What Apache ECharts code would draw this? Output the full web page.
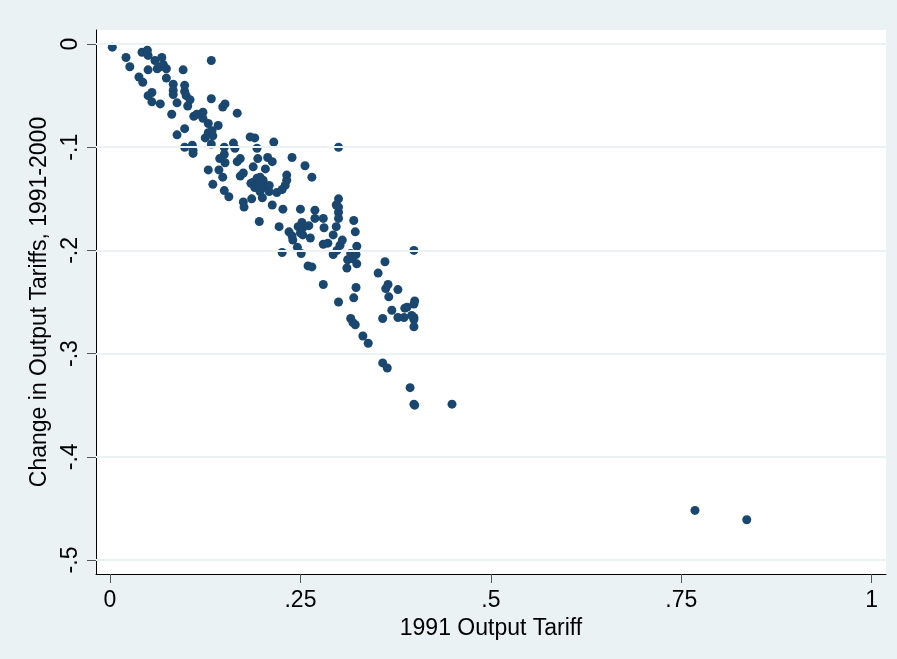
<!DOCTYPE html>
<html>
<head>
<meta charset="utf-8">
<script src="https://cdn.jsdelivr.net/npm/echarts@6/dist/echarts.min.js"></script>
<style>
html,body{margin:0;padding:0;background:#eaf2f3;}
#chart{width:897px;height:659px;}
</style>
</head>
<body>
<div id="chart"></div>
<script>
// 1991 output tariff (x) and change 1991-2000 (y)
const tariff1991 = [
0.003,0.021,0.042,0.049,0.050,0.026,0.059,0.068,0.062,0.066,0.070,0.074,0.050,0.096,0.133,
0.038,0.043,0.074,0.083,0.083,0.083,0.098,0.098,0.100,0.105,0.050,0.055,0.055,0.066,0.088,
0.102,0.133,0.081,0.110,0.114,0.122,0.122,0.129,0.142,0.148,0.151,0.167,0.098,0.088,0.125,
0.129,0.135,0.134,0.098,0.108,0.109,0.109,0.133,0.150,0.162,0.164,0.184,0.190,0.215,0.193,
0.150,0.144,0.151,0.167,0.171,0.194,0.207,0.213,0.239,0.256,0.129,0.143,0.148,0.188,0.204,
0.171,0.175,0.188,0.185,0.193,0.197,0.201,0.190,0.197,0.201,0.209,0.209,0.219,0.226,0.230,
0.232,0.232,0.265,0.135,0.150,0.156,0.175,0.176,0.186,0.197,0.200,0.213,0.227,0.250,0.196,
0.222,0.252,0.253,0.269,0.269,0.280,0.281,0.235,0.240,0.239,0.247,0.250,0.261,0.253,0.263,
0.246,0.251,0.226,0.297,0.293,0.280,0.286,0.305,0.302,0.298,0.293,0.300,0.300,0.297,0.300,
0.300,0.300,0.320,0.322,0.324,0.316,0.323,0.324,0.318,0.312,0.311,0.260,0.265,0.361,0.399,
0.352,0.280,0.323,0.365,0.362,0.366,0.378,0.320,0.300,0.370,0.358,0.378,0.387,0.390,0.386,
0.396,0.400,0.399,0.399,0.399,0.399,0.316,0.319,0.322,0.332,0.339,0.358,0.364,0.394,0.399,
0.400,0.449,0.768,0.836
];
const change9100 = [
-0.003,-0.013,-0.008,-0.006,-0.011,-0.022,-0.016,-0.013,-0.024,-0.022,-0.020,-0.024,-0.025,-0.025,-0.016,
-0.032,-0.037,-0.033,-0.039,-0.045,-0.049,-0.040,-0.046,-0.050,-0.054,-0.050,-0.047,-0.056,-0.058,-0.057,
-0.060,-0.053,-0.068,-0.070,-0.068,-0.066,-0.072,-0.077,-0.079,-0.061,-0.058,-0.067,-0.082,-0.088,-0.091,
-0.086,-0.089,-0.084,-0.100,-0.098,-0.103,-0.106,-0.097,-0.100,-0.096,-0.101,-0.090,-0.091,-0.095,-0.101,
-0.107,-0.111,-0.115,-0.114,-0.111,-0.111,-0.110,-0.114,-0.110,-0.118,-0.122,-0.122,-0.129,-0.119,-0.121,
-0.128,-0.125,-0.134,-0.135,-0.130,-0.129,-0.132,-0.139,-0.135,-0.139,-0.137,-0.143,-0.144,-0.141,-0.137,
-0.127,-0.132,-0.129,-0.136,-0.142,-0.148,-0.153,-0.158,-0.150,-0.143,-0.149,-0.156,-0.160,-0.160,-0.172,
-0.177,-0.173,-0.178,-0.161,-0.169,-0.169,-0.178,-0.182,-0.190,-0.186,-0.177,-0.183,-0.176,-0.185,-0.188,
-0.197,-0.203,-0.202,-0.177,-0.185,-0.194,-0.193,-0.190,-0.195,-0.200,-0.204,-0.100,-0.150,-0.156,-0.158,
-0.163,-0.169,-0.171,-0.182,-0.196,-0.203,-0.204,-0.213,-0.208,-0.209,-0.217,-0.215,-0.216,-0.211,-0.200,
-0.222,-0.233,-0.236,-0.233,-0.237,-0.245,-0.238,-0.246,-0.250,-0.258,-0.266,-0.265,-0.256,-0.255,-0.265,
-0.263,-0.249,-0.252,-0.265,-0.267,-0.274,-0.266,-0.270,-0.272,-0.283,-0.290,-0.309,-0.314,-0.333,-0.349,
-0.350,-0.349,-0.452,-0.461
];
const xTicks = [0, 0.25, 0.5, 0.75, 1];
const xTickLabels = ['0', '.25', '.5', '.75', '1'];
const yTicks = [0, -0.1, -0.2, -0.3, -0.4, -0.5];
const yTickLabels = ['0', '-.1', '-.2', '-.3', '-.4', '-.5'];
const xTitle = '1991 Output Tariff';
const yTitle = 'Change in Output Tariffs, 1991-2000';

const points = tariff1991.map((x, i) => [x, change9100[i]]);
const FONT = "'Liberation Sans', Arial, sans-serif";

const chart = echarts.init(document.getElementById('chart'), null, {renderer: 'canvas'});
chart.setOption({
  animation: false,
  backgroundColor: '#eaf2f3',
  grid: {left: 96, right: 11, top: 30, bottom: 85, show: true, backgroundColor: '#ffffff', borderWidth: 0},
  xAxis: {
    type: 'value', min: -0.0184, max: 1.0188,
    name: xTitle, nameLocation: 'middle', nameGap: 34,
    nameTextStyle: {fontFamily: FONT, fontSize: 23, color: '#000'},
    axisLine: {show: true, onZero: false, lineStyle: {color: '#000', width: 1}},
    axisTick: {show: true, length: 9, customValues: xTicks, lineStyle: {color: '#555'}},
    axisLabel: {show: true, customValues: xTicks, margin: 15, fontFamily: FONT, fontSize: 23, color: '#000',
      formatter: v => { const i = xTicks.findIndex(t => Math.abs(t - v) < 1e-9); return i >= 0 ? xTickLabels[i] : ''; }},
    splitLine: {show: false}
  },
  yAxis: {
    type: 'value', min: -0.5136, max: 0.0136,
    name: yTitle, nameLocation: 'middle', nameGap: 34, nameRotate: 90,
    nameTextStyle: {fontFamily: FONT, fontSize: 23, color: '#000'},
    axisLine: {show: true, onZero: false, lineStyle: {color: '#000', width: 1}},
    axisTick: {show: true, length: 9, customValues: yTicks, lineStyle: {color: '#555'}},
    axisLabel: {show: true, customValues: yTicks, rotate: 90, margin: 14, fontFamily: FONT, fontSize: 23, color: '#000',
      formatter: v => { const i = yTicks.findIndex(t => Math.abs(t - v) < 1e-9); return i >= 0 ? yTickLabels[i] : ''; }},
    splitLine: {show: false}
  },
  series: [
    {
      type: 'line', data: [], z: 1, silent: true,
      markLine: {
        silent: true, symbol: 'none', animation: false,
        label: {show: false},
        lineStyle: {color: '#eaf2f3', width: 2, type: 'solid'},
        data: yTicks.map(v => ({yAxis: v}))
      }
    },
    {
      type: 'scatter', data: points, z: 3,
      symbol: 'circle', symbolSize: 9,
      itemStyle: {color: '#1a476f', opacity: 1}
    }
  ]
});
</script>
</body>
</html>
